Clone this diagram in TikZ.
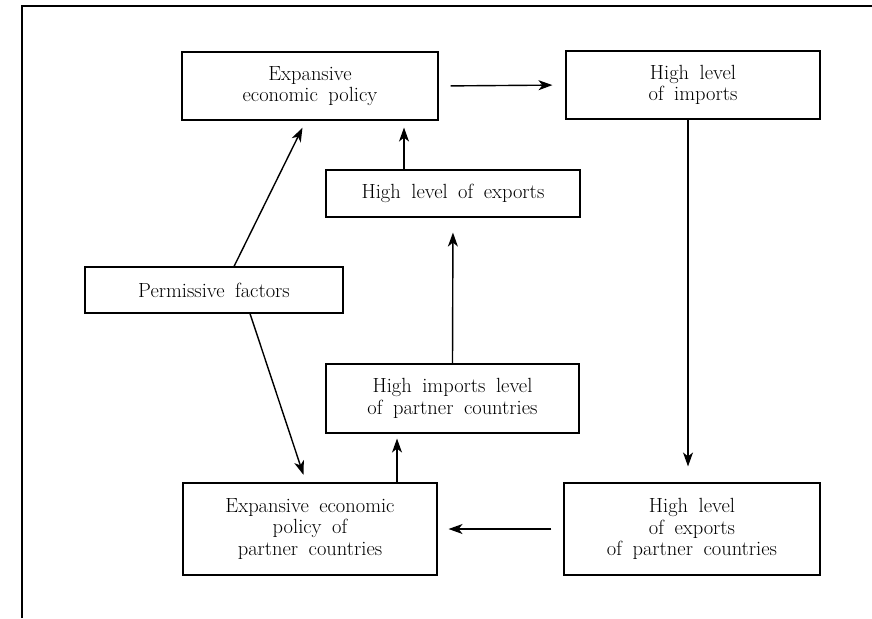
\documentclass[tikz,border=0pt]{standalone}
\usepackage{fontspec}
\setmainfont{Latin Modern Roman}[WordSpace=1.7]
\usetikzlibrary{arrows.meta,calc}
\begin{document}
\begin{tikzpicture}[x=1pt,y=-1pt,
  box/.style={draw,line width=1.1pt,inner sep=0pt,align=center,
    font=\fontsize{20.5}{21.5}\selectfont},
  arr/.style={line width=1.4pt,-{Stealth[length=14pt,width=10pt,inset=4pt]}}]
\useasboundingbox (0,0) rectangle (872,618);
\draw[line width=1.5pt] (22,618) -- (22,6) -- (872,6);
\node[box,minimum width=256pt,minimum height=68pt] (A) at (310,86) {Expansive\\economic policy};
\node[box,minimum width=254pt,minimum height=68pt] (B) at (693,85) {High level\\of imports};
\node[box,minimum width=254pt,minimum height=47pt] (C) at (453,193.5) {High level of exports};
\node[box,minimum width=258pt,minimum height=46pt] (P) at (214,290) {Permissive factors};
\node[box,minimum width=253pt,minimum height=69pt] (D) at (452.5,398.5) {High imports level\\of partner countries};
\node[box,minimum width=254pt,minimum height=92pt] (E) at (310,529) {Expansive economic\\policy of\\partner countries};
\node[box,minimum width=256pt,minimum height=92pt] (F) at (692,529) {High level\\of exports\\of partner countries};
% connectors
\draw[arr,shorten <=12pt,shorten >=13pt] (A.east) -- (B.west);
\coordinate (c1) at ($(C.north)+(-49,0)$);
\draw[arr,shorten >=7pt] (c1) -- (c1 |- A.south);
\draw[arr,shorten >=15pt] (D.north) -- (C.south);
\coordinate (p1) at ($(P.north)+(20,0)$);
\coordinate (a1) at ($(A.south)+(-4,0)$);
\draw[arr,shorten >=8pt] (p1) -- (a1);
\coordinate (p2) at ($(P.south)+(36,0)$);
\coordinate (e1) at ($(E.north)+(-4,0)$);
\draw[arr,shorten >=8pt] (p2) -- (e1);
\coordinate (e2) at ($(E.north)+(87,0)$);
\draw[arr,shorten >=5pt] (e2) -- (e2 |- D.south);
\draw[arr,shorten <=12pt,shorten >=11pt] (F.west) -- (E.east);
\coordinate (b1) at ($(B.south)+(-5,0)$);
\draw[arr,shorten >=16pt] (b1) -- (b1 |- F.north);
\end{tikzpicture}
\end{document}
